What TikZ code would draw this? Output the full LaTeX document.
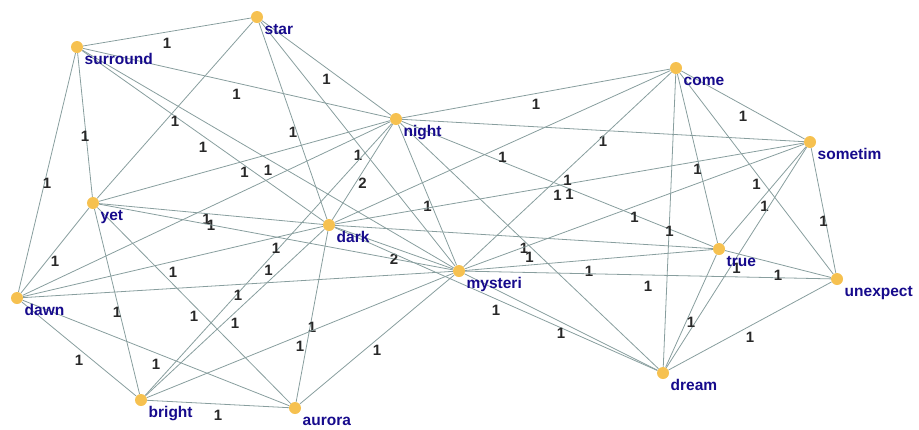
\documentclass[tikz,border=0pt]{standalone}
\usepackage{fontspec}
\setmainfont{Liberation Sans}
\usetikzlibrary{backgrounds}
\definecolor{vtxfill}{RGB}{246,193,80}
\definecolor{edgecol}{RGB}{136,158,158}
\definecolor{labcol}{RGB}{22,10,140}
\definecolor{wcol}{RGB}{40,40,40}
\tikzset{
  vtx/.style={circle, fill=vtxfill, draw=none, minimum size=12pt, inner sep=0pt},
  lab/.style={text=labcol, font=\fontsize{15.5}{15.5}\selectfont\bfseries, inner sep=0pt, anchor=base west},
  edge/.style={draw=edgecol, line width=0.8pt},
  elab/.style={midway, yshift=-11pt, text=wcol, font=\fontsize{15}{15}\selectfont\bfseries, inner sep=0pt}
}
\begin{document}
\begin{tikzpicture}[x=1pt,y=-1pt]
\useasboundingbox (0,0) rectangle (919,429);
\foreach \n/\x/\y in {star/257/17, surround/77/47, night/396/119, come/676/68,
  sometim/810/142, yet/93/203, dark/329/225, mysteri/459/271, true/719/249,
  unexpect/837/279, dawn/17/298, dream/663/373, bright/141/400, aurora/295/408}{
  \node[vtx] (\n) at (\x,\y) {};
  \node[lab] (\n-t) at (\x+7.5,\y+17) {\n};
}
\begin{scope}[on background layer]
\foreach \a/\b/\w in {surround/star/1, surround/night/1, surround/yet/1, surround/dawn/1,
  surround/dark/1, surround/mysteri/1, star/yet/1, star/dark/1, star/night/1,
  star/mysteri/1, night/dark/2, night/mysteri/1, night/yet/1, night/dawn/1,
  night/bright/1, night/come/1, night/sometim/1, night/true/1, night/dream/1,
  yet/dark/1, yet/mysteri/1, yet/dawn/1, yet/bright/1, yet/aurora/1,
  dark/mysteri/2, dark/dawn/1, dark/bright/1, dark/aurora/1, dark/come/1,
  dark/sometim/1, dark/true/1, dark/dream/1, mysteri/dawn/1, mysteri/bright/1,
  mysteri/aurora/1, mysteri/come/1, mysteri/sometim/1, mysteri/true/1,
  mysteri/unexpect/1, mysteri/dream/1, dawn/bright/1, dawn/aurora/1,
  bright/aurora/1, come/sometim/1, come/true/1, come/unexpect/1, come/dream/1,
  sometim/true/1, sometim/unexpect/1, sometim/dream/1, true/unexpect/1,
  true/dream/1, dream/unexpect/1}{
  \draw[edge] (\a) -- (\b) node[elab] {\w};
}
\end{scope}
\end{tikzpicture}
\end{document}
